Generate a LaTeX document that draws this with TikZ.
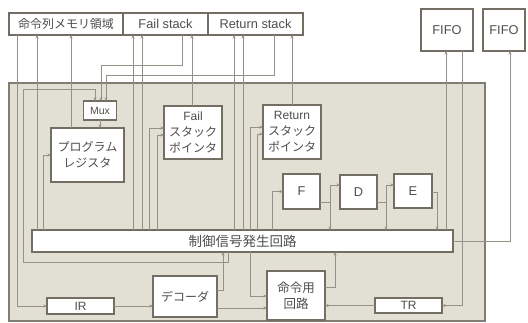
\documentclass[tikz,border=0pt]{standalone}
\usepackage{fontspec}
\setmainfont{Liberation Sans}
\newfontfamily\jp{Noto Sans CJK JP}
\usetikzlibrary{arrows.meta}
\definecolor{panelfill}{RGB}{226,223,212}
\definecolor{panelline}{RGB}{130,125,115}
\definecolor{boxline}{RGB}{115,110,100}
\definecolor{wire}{RGB}{150,145,135}
\definecolor{txt}{RGB}{80,78,75}
\tikzset{
  box/.style={draw=boxline, line width=1.2pt, fill=white, inner sep=0pt, outer sep=0pt,
              text=txt, align=center, font=\fontsize{12}{16}\selectfont},
  big/.style={font=\fontsize{12.8}{16}\selectfont},
  w/.style={draw=wire, line width=0.8pt},
  wa/.style={w, -{Stealth[length=3.5pt,width=3pt]}},
}
\begin{document}
\begin{tikzpicture}[x=1pt,y=-1pt]
\useasboundingbox (0,0) rectangle (528,322);
% panel
\draw[draw=panelline, line width=1.2pt, fill=panelfill] (9,83) rectangle (485,321);

% top boxes
\node[box, minimum width=114pt, minimum height=22pt] (mem) at (66,24) {\jp 命令列メモリ領域};
\node[box, big, minimum width=85pt, minimum height=22pt] (fstk) at (165.5,24) {Fail stack};
\node[box, big, minimum width=95pt, minimum height=22pt] (rstk) at (255.5,24) {Return stack};
\node[box, big, minimum width=52pt, minimum height=42pt] (fifoa) at (447,30) {FIFO};
\node[box, big, minimum width=42pt, minimum height=42pt] (fifob) at (504,30) {FIFO};

% inner boxes
\node[box, minimum width=33pt, minimum height=19pt, font=\fontsize{10.5}{12}\selectfont] (mux) at (100,110.5) {Mux};
\node[box, minimum width=73pt, minimum height=54pt] (pr) at (87.5,155) {\jp プログラム\\\jp レジスタ};
\node[box, minimum width=58pt, minimum height=53pt] (fsp) at (193,132.5) {Fail\\\jp スタック\\\jp ポインタ};
\node[box, minimum width=58pt, minimum height=54pt] (rsp) at (292,132) {Return\\\jp スタック\\\jp ポインタ};
\node[box, big, minimum width=37pt, minimum height=35pt] (F) at (301.5,191.5) {F};
\node[box, big, minimum width=37pt, minimum height=34pt] (D) at (358.5,192) {D};
\node[box, big, minimum width=38pt, minimum height=34pt] (E) at (413,191) {E};
\node[box, minimum width=421pt, minimum height=22pt, font=\fontsize{13.5}{15}\selectfont] (bar) at (242.5,241) {\jp 制御信号発生回路};
\node[box, minimum width=67pt, minimum height=16pt] (IR) at (80.5,306) {IR};
\node[box, minimum width=64pt, minimum height=41pt] (dec) at (185,296.5) {\jp デコーダ};
\node[box, minimum width=58pt, minimum height=49pt, font=\fontsize{12.5}{16}\selectfont] (cmd) at (296,295.5) {\jp 命令用\\\jp 回路};
\node[box, minimum width=67pt, minimum height=15pt] (TR) at (408.5,305.5) {TR};

% memory side
\draw[wa] (mem.south -| 17,0) |- (IR.west);
\draw[wa] (bar.north -| 37,0) -- (mem.south -| 37,0);
\draw[wa] (bar.north -| 43,0) |- (pr.west);
\draw[wa] (pr.north -| 71,0) -- (mem.south -| 71,0);
\draw[wa] (mux.south) -- (pr.north -| mux.south);
\draw[wa] (bar.south -| 228,0) -- (228,262) -- (23,262) -- (23,89) -- (95,89) -- (mux.north -| 95,0);
\draw[wa] (fstk.south -| 182,0) -- (182,65) -- (101,65) -- (mux.north -| 101,0);
\draw[wa] (rstk.south -| 274,0) -- (274,75) -- (106,75) -- (mux.north -| 106,0);

% fail stack side
\draw[wa] (bar.north -| 133,0) -- (fstk.south -| 133,0);
\draw[wa] (bar.north -| 142,0) -- (fstk.south -| 142,0);
\draw[wa] (bar.north -| 149,0) -- (149,128) -- (fsp.west |- 0,128);
\draw[wa] (bar.north -| 157,0) -- (157,135) -- (fsp.west |- 0,135);
\draw[wa] (fsp.north -| 192,0) -- (fstk.south -| 192,0);

% return stack side
\draw[wa] (bar.north -| 234,0) -- (rstk.south -| 234,0);
\draw[wa] (bar.north -| 243,0) -- (rstk.south -| 243,0);
\draw[wa] (bar.north -| 250,0) -- (250,127) -- (rsp.west |- 0,127);
\draw[wa] (bar.north -| 257,0) -- (257,134) -- (rsp.west |- 0,134);
\draw[wa] (rsp.north -| 292,0) -- (rstk.south -| 292,0);

% pipeline
\draw[wa] (bar.north -| 272,0) |- (F.west);
\draw[wa] (F.east |- 0,202) -- (330,202) -- (bar.north -| 330,0);
\draw[wa] (330,202) -- (330,185) -- (D.west |- 0,185);
\draw[wa] (D.east |- 0,202) -- (386,202) -- (bar.north -| 386,0);
\draw[wa] (386,202) -- (386,185) -- (E.west |- 0,185);
\draw[wa] (E.east |- 0,192) -- (437,192) -- (bar.north -| 437,0);

% FIFOs
\draw[wa] (bar.north -| 446,0) -- (fifoa.south -| 446,0);
\draw[wa] (fifoa.south -| 462,0) |- (TR.east);
\draw[wa] (bar.east) -| (fifob.south -| 510,0);

% bottom row
\draw[wa] (IR.east) -- (dec.west |- IR.east);
\draw[wa] (dec.east |- 0,290) -- (223,290) -- (bar.south -| 223,0);
\draw[wa] (dec.east |- 0,308) -- (cmd.west |- 0,308);
\draw[wa] (bar.south -| 250,0) |- (cmd.west |- 0,296);
\draw[wa] (TR.west) -- (cmd.east |- TR.west);
\draw[wa] (cmd.east |- 0,287) -- (335,287) -- (bar.south -| 335,0);
\end{tikzpicture}
\end{document}
